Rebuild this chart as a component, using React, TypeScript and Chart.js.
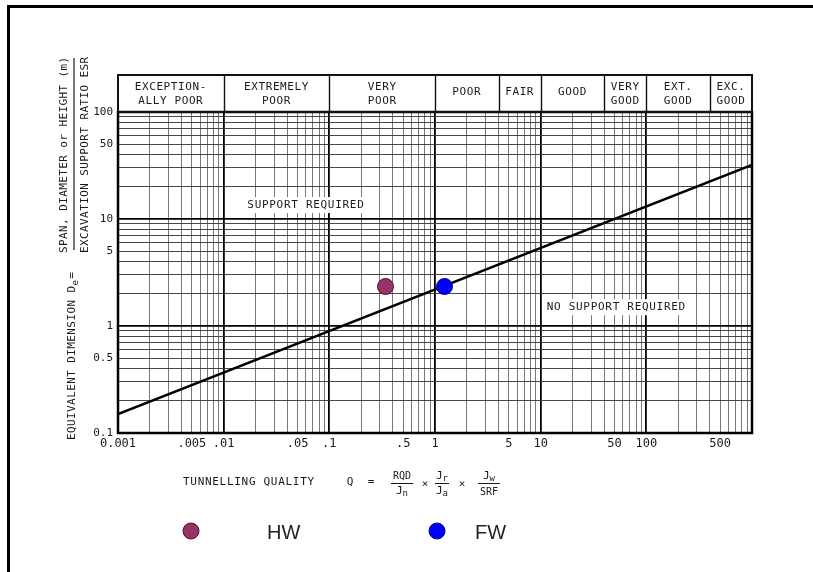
import React, { useEffect, useRef } from "react";
import { Chart, registerables } from "chart.js";

Chart.register(...registerables);

// ---------- data ----------
const X_MIN = 0.001;
const X_MAX = 1000;
const Y_MIN = 0.1;
const Y_MAX = 100;

const X_TICK_VALUES = [0.001, 0.005, 0.01, 0.05, 0.1, 0.5, 1, 5, 10, 50, 100, 500];
const X_TICK_LABELS = ["0.001", ".005", ".01", ".05", ".1", ".5", "1", "5", "10", "50", "100", "500"];
const Y_TICK_VALUES = [0.1, 0.5, 1, 5, 10, 50, 100];
const Y_TICK_LABELS = ["0.1", "0.5", "1", "5", "10", "50", "100"];

const CLASS_BOUNDS = [0.001, 0.01, 0.1, 1, 4, 10, 40, 100, 400, 1000];
const CLASS_NAMES = [
  ["EXCEPTION-", "ALLY POOR"],
  ["EXTREMELY", "POOR"],
  ["VERY", "POOR"],
  ["POOR"],
  ["FAIR"],
  ["GOOD"],
  ["VERY", "GOOD"],
  ["EXT.", "GOOD"],
  ["EXC.", "GOOD"],
];

const BOUNDARY_Q = [0.001, 1000];
const BOUNDARY_DE = [0.15, 32];

const HW_Q = [0.34];
const HW_DE = [2.34];
const FW_Q = [1.23];
const FW_DE = [2.34];

const REGION_TEXTS = ["SUPPORT REQUIRED", "NO SUPPORT REQUIRED"];
const REGION_Q = [0.06, 52];
const REGION_DE = [13.5, 1.5];

const SERIES_NAMES = ["HW", "FW"];
const SERIES_COLORS = ["#993366", "#0000ff"];
const SERIES_BORDERS = ["#4a1030", "#000080"];

// ---------- helpers ----------
const MONO = '"DejaVu Sans Mono", "Liberation Mono", monospace';
const INK = "#1a1a1a";

function gridValues(min: number, max: number) {
  const out: number[] = [];
  const e0 = Math.round(Math.log10(min));
  const e1 = Math.round(Math.log10(max));
  for (let e = e0; e < e1; e++) {
    for (let m = 1; m <= 9; m++) out.push(Number((m * Math.pow(10, e)).toPrecision(6)));
  }
  out.push(max);
  return out;
}

function labelFor(v: number, vals: number[], labels: string[]) {
  for (let i = 0; i < vals.length; i++) {
    if (Math.abs(Math.log10(v) - Math.log10(vals[i])) < 1e-6) return labels[i];
  }
  return "";
}

function isDecade(v: number) {
  const l = Math.log10(v);
  return Math.abs(l - Math.round(l)) < 1e-6;
}

function spaced(ctx: CanvasRenderingContext2D, text: string, x: number, y: number, sp: number) {
  (ctx as any).letterSpacing = sp + "px";
  ctx.fillText(text, x, y);
  (ctx as any).letterSpacing = "0px";
}

function drawJ(ctx: CanvasRenderingContext2D, base: string, sub: string, cx: number, cy: number, size: number) {
  ctx.font = `${size}px ${MONO}`;
  const wb = ctx.measureText(base).width;
  ctx.font = `${size - 2}px ${MONO}`;
  const ws = ctx.measureText(sub).width;
  const x0 = cx - (wb + ws) / 2;
  ctx.textAlign = "left";
  ctx.font = `${size}px ${MONO}`;
  ctx.fillText(base, x0, cy);
  ctx.font = `${size - 2}px ${MONO}`;
  ctx.fillText(sub, x0 + wb, cy + 3);
}

const decorPlugin = {
  id: "decor",
  beforeDatasetsDraw(chart: any) {
    const { ctx, chartArea: a, scales } = chart;
    const xs = scales.x;
    const ys = scales.y;
    ctx.save();
    ctx.font = `11px ${MONO}`;
    ctx.textAlign = "center";
    ctx.textBaseline = "middle";
    for (let i = 0; i < REGION_TEXTS.length; i++) {
      const x = xs.getPixelForValue(REGION_Q[i]);
      const y = ys.getPixelForValue(REGION_DE[i]);
      (ctx as any).letterSpacing = "0.7px";
      const w = ctx.measureText(REGION_TEXTS[i]).width;
      ctx.fillStyle = "#fff";
      ctx.fillRect(x - w / 2 - 4, y - 8, w + 8, 16);
      ctx.fillStyle = INK;
      spaced(ctx, REGION_TEXTS[i], x, y, 0.7);
    }
    // frame
    ctx.strokeStyle = "#000";
    ctx.lineWidth = 2.5;
    ctx.strokeRect(a.left, a.top, a.right - a.left, a.bottom - a.top);
    ctx.restore();
  },
  afterDraw(chart: any) {
    const { ctx, chartArea: a, scales } = chart;
    const xs = scales.x;
    ctx.save();

    // outer border (top and left)
    ctx.fillStyle = "#000";
    ctx.fillRect(7, 5, 806, 3);
    ctx.fillRect(7, 5, 3, 567);

    // classification header
    const hTop = 75;
    const hBot = a.top;
    ctx.strokeStyle = "#111";
    ctx.lineWidth = 2;
    ctx.strokeRect(a.left, hTop, a.right - a.left, hBot - hTop);
    ctx.lineWidth = 1.4;
    for (let i = 1; i < CLASS_BOUNDS.length - 1; i++) {
      const x = Math.round(xs.getPixelForValue(CLASS_BOUNDS[i])) + 0.5;
      ctx.beginPath();
      ctx.moveTo(x, hTop);
      ctx.lineTo(x, hBot);
      ctx.stroke();
    }
    ctx.fillStyle = INK;
    ctx.font = `11px ${MONO}`;
    ctx.textAlign = "center";
    ctx.textBaseline = "middle";
    for (let i = 0; i < CLASS_NAMES.length; i++) {
      const x0 = xs.getPixelForValue(CLASS_BOUNDS[i]);
      const x1 = xs.getPixelForValue(CLASS_BOUNDS[i + 1]);
      const cx = (x0 + x1) / 2;
      const lines = CLASS_NAMES[i];
      if (lines.length === 2) {
        spaced(ctx, lines[0], cx, 87, 0.6);
        spaced(ctx, lines[1], cx, 101, 0.6);
      } else {
        spaced(ctx, lines[0], cx, 92, 0.6);
      }
    }

    // y-axis title (rotated)
    ctx.textAlign = "left";
    ctx.textBaseline = "middle";
    ctx.font = `11px ${MONO}`;
    const drawV = (text: string, x: number, yStart: number) => {
      ctx.save();
      ctx.translate(x, yStart);
      ctx.rotate(-Math.PI / 2);
      spaced(ctx, text, 0, 0, 0.4);
      ctx.restore();
    };
    drawV("SPAN, DIAMETER or HEIGHT (m)", 64, 253);
    drawV("EXCAVATION SUPPORT RATIO ESR", 85, 253);
    // EQUIVALENT DIMENSION De=
    ctx.save();
    ctx.translate(72, 440);
    ctx.rotate(-Math.PI / 2);
    ctx.font = `11px ${MONO}`;
    (ctx as any).letterSpacing = "0.4px";
    const part1 = "EQUIVALENT DIMENSION D";
    ctx.fillText(part1, 0, 0);
    const w1 = ctx.measureText(part1).width;
    ctx.font = `9px ${MONO}`;
    ctx.fillText("e", w1, 4);
    const w2 = ctx.measureText("e").width;
    ctx.font = `11px ${MONO}`;
    ctx.fillText("=", w1 + w2 + 1, 0);
    (ctx as any).letterSpacing = "0px";
    ctx.restore();
    // fraction bar
    ctx.strokeStyle = INK;
    ctx.lineWidth = 1.2;
    ctx.beginPath();
    ctx.moveTo(74, 58);
    ctx.lineTo(74, 250);
    ctx.stroke();

    // x-axis title formula
    ctx.fillStyle = INK;
    ctx.font = `11px ${MONO}`;
    ctx.textAlign = "left";
    ctx.textBaseline = "middle";
    spaced(ctx, "TUNNELLING QUALITY", 183, 482, 0.7);
    ctx.textAlign = "center";
    ctx.fillText("Q", 350, 482);
    ctx.fillText("=", 371, 482);
    ctx.fillText("×", 425, 484);
    ctx.fillText("×", 462, 484);
    ctx.lineWidth = 1;
    const frac = (cx: number, w: number) => {
      ctx.beginPath();
      ctx.moveTo(cx - w / 2, 483.5);
      ctx.lineTo(cx + w / 2, 483.5);
      ctx.stroke();
    };
    ctx.font = `10px ${MONO}`;
    ctx.fillText("RQD", 402, 476);
    frac(402, 22);
    drawJ(ctx, "J", "n", 402, 491, 11);
    drawJ(ctx, "J", "r", 442, 476, 11);
    frac(442, 14);
    drawJ(ctx, "J", "a", 442, 491, 11);
    drawJ(ctx, "J", "w", 489, 476, 11);
    frac(489, 22);
    ctx.textAlign = "center";
    ctx.font = `10px ${MONO}`;
    ctx.fillText("SRF", 489, 492);

    // legend
    const legX = [191, 437];
    const legTextX = [267, 475];
    for (let i = 0; i < SERIES_NAMES.length; i++) {
      ctx.beginPath();
      ctx.arc(legX[i], 531, 8, 0, Math.PI * 2);
      ctx.fillStyle = SERIES_COLORS[i];
      ctx.fill();
      ctx.lineWidth = 1;
      ctx.strokeStyle = SERIES_BORDERS[i];
      ctx.stroke();
      ctx.fillStyle = "#222";
      ctx.font = `20px "Liberation Sans", Arial, sans-serif`;
      ctx.textAlign = "left";
      ctx.textBaseline = "middle";
      ctx.fillText(SERIES_NAMES[i], legTextX[i], 533);
    }

    ctx.restore();
  },
};

export default function App() {
  const ref = useRef<HTMLCanvasElement | null>(null);

  useEffect(() => {
    document.body.style.margin = "0";
    const canvas = ref.current;
    if (!canvas) return;
    const xGrid = gridValues(X_MIN, X_MAX);
    const yGrid = gridValues(Y_MIN, Y_MAX);

    const chart = new Chart(canvas, {
      type: "scatter",
      data: {
        datasets: [
          {
            label: SERIES_NAMES[0],
            data: HW_Q.map((q, i) => ({ x: q, y: HW_DE[i] })),
            backgroundColor: SERIES_COLORS[0],
            borderColor: SERIES_BORDERS[0],
            borderWidth: 1,
            pointRadius: 8,
            order: 0,
          },
          {
            label: SERIES_NAMES[1],
            data: FW_Q.map((q, i) => ({ x: q, y: FW_DE[i] })),
            backgroundColor: SERIES_COLORS[1],
            borderColor: SERIES_BORDERS[1],
            borderWidth: 1,
            pointRadius: 8,
            order: 0,
          },
          {
            type: "line",
            label: "boundary",
            data: BOUNDARY_Q.map((q, i) => ({ x: q, y: BOUNDARY_DE[i] })),
            borderColor: "#000",
            borderWidth: 2.5,
            pointRadius: 0,
            fill: false,
            order: 1,
          } as any,
        ],
      },
      options: {
        responsive: false,
        animation: false,
        devicePixelRatio: 1,
        layout: { padding: { left: 78, right: 61, top: 112, bottom: 119 } },
        plugins: {
          legend: { display: false },
          tooltip: { enabled: false },
          title: { display: false },
        },
        scales: {
          x: {
            type: "logarithmic",
            min: X_MIN,
            max: X_MAX,
            afterBuildTicks: (s: any) => {
              s.ticks = xGrid.map((v) => ({ value: v }));
            },
            afterFit: (s: any) => {
              s.height = 20;
            },
            border: { display: false },
            grid: {
              drawTicks: false,
              color: (c: any) => (c.tick && isDecade(c.tick.value) ? "#000" : "#555"),
              lineWidth: (c: any) => (c.tick && isDecade(c.tick.value) ? 1.8 : 0.8),
            },
            ticks: {
              autoSkip: false,
              maxRotation: 0,
              minRotation: 0,
              padding: 4,
              color: INK,
              font: { family: MONO, size: 12 },
              callback: (v: any) => labelFor(Number(v), X_TICK_VALUES, X_TICK_LABELS),
            },
          },
          y: {
            type: "logarithmic",
            min: Y_MIN,
            max: Y_MAX,
            afterBuildTicks: (s: any) => {
              s.ticks = yGrid.map((v) => ({ value: v }));
            },
            afterFit: (s: any) => {
              s.width = 40;
            },
            border: { display: false },
            grid: {
              drawTicks: false,
              color: (c: any) => (c.tick && isDecade(c.tick.value) ? "#000" : "#333"),
              lineWidth: (c: any) => (c.tick && isDecade(c.tick.value) ? 1.8 : 0.9),
            },
            ticks: {
              autoSkip: false,
              padding: 5,
              color: INK,
              font: { family: MONO, size: 11 },
              callback: (v: any) => labelFor(Number(v), Y_TICK_VALUES, Y_TICK_LABELS),
            },
          },
        },
      },
      plugins: [decorPlugin],
    });
    return () => chart.destroy();
  }, []);

  return (
    <div style={{ width: 813, height: 572, background: "#fff", position: "relative" }}>
      <canvas ref={ref} width={813} height={572} style={{ display: "block" }} />
    </div>
  );
}
